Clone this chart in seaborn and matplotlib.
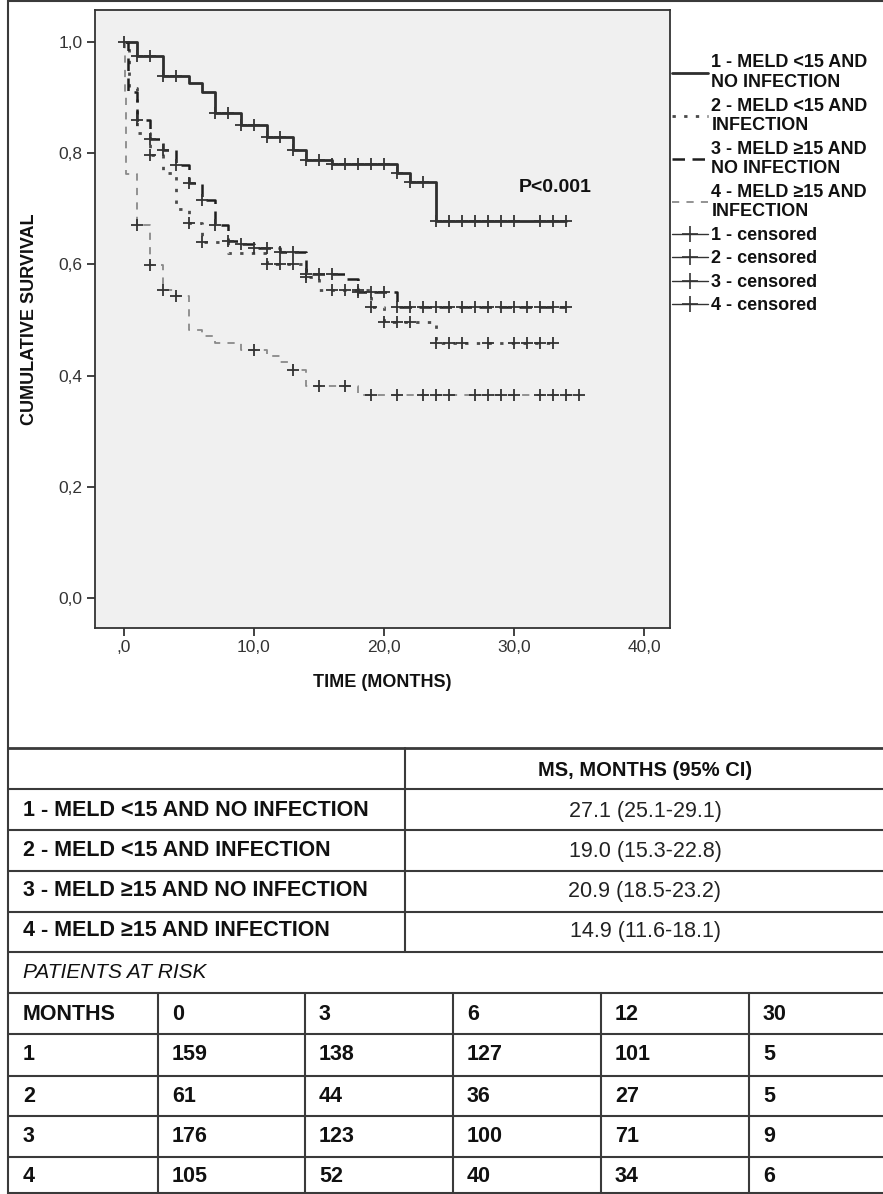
import numpy as np
import pandas as pd
import matplotlib
matplotlib.use('Agg')
import matplotlib.pyplot as plt
from matplotlib.lines import Line2D
import seaborn as sns

# Kaplan-Meier steps (time in months, survival after the step)
t1 = [0, 1, 3, 5, 6, 7, 9, 11, 13, 14, 16, 21, 22, 24]
s1 = [1.0, 0.975, 0.938, 0.926, 0.911, 0.873, 0.851, 0.829, 0.805, 0.788, 0.780, 0.764, 0.748, 0.678]
end1 = 34
c1 = [0, 1, 2, 3, 4, 7, 8, 9, 10, 11, 12, 13, 14, 15, 16, 17, 18, 19, 20, 21, 22, 23,
      24, 25, 26, 27, 28, 29, 30, 32, 33, 34]

t2 = [0, 0.4, 1, 2, 3, 4, 5, 6, 8, 11, 14, 15, 19, 20, 24]
s2 = [1.0, 0.918, 0.836, 0.797, 0.765, 0.700, 0.675, 0.640, 0.620, 0.600, 0.578, 0.554, 0.524, 0.497, 0.459]
end2 = 33
c2 = [2, 5, 6, 11, 12, 13, 14, 16, 17, 18, 19, 20, 21, 22, 24, 25, 26, 28, 30, 31, 32, 33]

t3 = [0, 0.3, 1, 2, 3, 4, 5, 6, 7, 8, 9, 10, 12, 14, 17, 18, 21]
s3 = [1.0, 0.910, 0.860, 0.826, 0.805, 0.778, 0.746, 0.716, 0.671, 0.642, 0.636, 0.630, 0.623,
      0.583, 0.574, 0.551, 0.523]
end3 = 34
c3 = [1, 2, 3, 4, 5, 6, 7, 8, 9, 10, 11, 12, 13, 14, 15, 16, 18, 19, 20, 21, 22, 23, 24, 25,
      26, 27, 28, 29, 30, 31, 32, 33, 34]

t4 = [0, 0.05, 0.15, 1, 2, 3, 4, 5, 6, 7, 9, 11, 12, 13, 14, 18]
s4 = [1.0, 0.905, 0.762, 0.671, 0.599, 0.554, 0.543, 0.482, 0.471, 0.459, 0.446, 0.435, 0.424,
      0.410, 0.381, 0.365]
end4 = 35
c4 = [1, 2, 3, 4, 10, 13, 15, 17, 19, 21, 23, 24, 25, 27, 28, 29, 30, 32, 33, 34, 35]

group_labels = ['1 - MELD <15 AND\nNO INFECTION', '2 - MELD <15 AND\nINFECTION',
                '3 - MELD \u226515 AND\nNO INFECTION', '4 - MELD \u226515 AND\nINFECTION']

# table data
table_groups = ['1 - MELD <15 AND NO INFECTION', '2 - MELD <15 AND INFECTION',
                '3 - MELD \u226515 AND NO INFECTION', '4 - MELD \u226515 AND INFECTION']
ms_values = ['27.1 (25.1-29.1)', '19.0 (15.3-22.8)', '20.9 (18.5-23.2)', '14.9 (11.6-18.1)']
risk_months = ['0', '3', '6', '12', '30']
risk_g1 = [159, 138, 127, 101, 5]
risk_g2 = [61, 44, 36, 27, 5]
risk_g3 = [176, 123, 100, 71, 9]
risk_g4 = [105, 52, 40, 34, 6]

sns.set_theme(style='white')
plt.rcParams['font.family'] = ['Liberation Sans', 'DejaVu Sans']

W, H = 883, 1194
fig = plt.figure(figsize=(W / 100, H / 100), dpi=100)

def fx(x):
    return x / W

def fy(y):
    return 1 - y / H

ax = fig.add_axes([fx(95), fy(628), (670 - 95) / W, (628 - 10) / H])
ax.set_facecolor('#f0f0f0')

styles = [
    dict(color='#2e2e2e', lw=2.0, ls='-'),
    dict(color='#4a4a4a', lw=2.0, ls=(0, (1.2, 3))),
    dict(color='#1e1e1e', lw=1.8, ls=(0, (5, 3))),
    dict(color='#8a8a8a', lw=1.3, ls=(0, (4, 4))),
]
curves = [(t1, s1, end1, c1), (t2, s2, end2, c2), (t3, s3, end3, c3), (t4, s4, end4, c4)]

for (t, s, end, cens), st in zip(curves, styles):
    df = pd.DataFrame({'time': t + [end], 'surv': s + [s[-1]]})
    sns.lineplot(data=df, x='time', y='surv', ax=ax, drawstyle='steps-post',
                 estimator=None, sort=False, color=st['color'], linewidth=st['lw'],
                 linestyle=st['ls'])
    tt = np.array(t)
    idx = np.searchsorted(tt, np.array(cens), side='right') - 1
    cy = np.array(s)[idx]
    sns.scatterplot(x=cens, y=cy, ax=ax, marker='+', s=70, linewidth=1.3,
                    color='#333333', zorder=3)

ax.set_xlim(-2.23, 42.0)
ax.set_ylim(-0.054, 1.0576)
ax.set_xticks([0, 10, 20, 30, 40])
ax.set_xticklabels([',0', '10,0', '20,0', '30,0', '40,0'])
ax.set_yticks([0, 0.2, 0.4, 0.6, 0.8, 1.0])
ax.set_yticklabels(['0,0', '0,2', '0,4', '0,6', '0,8', '1,0'])
ax.tick_params(axis='both', direction='out', length=6, width=1.3, color='#333333',
               labelsize=12.5, labelcolor='#333333', pad=3, bottom=True, left=True)
for sp in ax.spines.values():
    sp.set_color('#333333')
    sp.set_linewidth(1.3)

ax.set_xlabel('TIME (MONTHS)', fontsize=13, fontweight='bold', color='#111111')
ax.set_ylabel('CUMULATIVE SURVIVAL', fontsize=13, fontweight='bold', color='#111111')
ax.xaxis.set_label_coords(0.5, -0.075)
ax.yaxis.set_label_coords(-0.099, 0.5)

ax.text(33.2, 0.739, 'P<0.001', ha='center', va='center', fontsize=14,
        fontweight='bold', color='#111111')

handles = [Line2D([0], [0], color=st['color'], lw=st['lw'], ls=st['ls']) for st in styles]
handles += [Line2D([0], [0], color='#333333', lw=1.0, marker='+', markersize=12,
                   markeredgewidth=1.2) for _ in range(4)]
labels = group_labels + ['%d - censored' % i for i in range(1, 5)]
leg = ax.legend(handles, labels, loc='upper left', bbox_to_anchor=(1.003, 0.928),
                frameon=False, borderaxespad=0, borderpad=0, handlelength=2.0,
                handletextpad=0.2, labelspacing=0.36,
                prop={'weight': 'bold', 'size': 13})
for txt in leg.get_texts():
    txt.set_linespacing(1.2)
    txt.set_color('#111111')

# outer frame
lc = '#3a3a3a'
fig.add_artist(Line2D([fx(8), fx(8)], [fy(0), fy(H)], color=lc, lw=1.5))
fig.add_artist(Line2D([fx(8), fx(W)], [fy(1), fy(1)], color=lc, lw=1.5))

# summary table lines
for y in [748, 789, 830, 871, 912, 952, 993, 1034, 1076, 1116, 1157, 1193]:
    fig.add_artist(Line2D([fx(8), fx(W)], [fy(y), fy(y)], color=lc,
                          lw=2.0 if y == 748 else 1.5))
fig.add_artist(Line2D([fx(405), fx(405)], [fy(748), fy(952)], color=lc, lw=1.5))
col_x = [158, 305, 453, 601, 749]
for x in col_x:
    fig.add_artist(Line2D([fx(x), fx(x)], [fy(993), fy(1193)], color=lc, lw=1.5))

fig.text(fx(645), fy(770), 'MS, MONTHS (95% CI)', ha='center', va='center',
         fontsize=14.5, fontweight='bold', color='#111111')
row_y = [811, 851, 891, 931]
for name, ms, y in zip(table_groups, ms_values, row_y):
    fig.text(fx(23), fy(y), name, ha='left', va='center', fontsize=15.5,
             fontweight='bold', color='#111111')
    fig.text(fx(645), fy(y), ms, ha='center', va='center', fontsize=15.5,
             color='#222222')

fig.text(fx(23), fy(973), 'PATIENTS AT RISK', ha='left', va='center', fontsize=15,
         style='italic', color='#111111')

risk_rows = [['MONTHS'] + risk_months,
             ['1'] + [str(v) for v in risk_g1],
             ['2'] + [str(v) for v in risk_g2],
             ['3'] + [str(v) for v in risk_g3],
             ['4'] + [str(v) for v in risk_g4]]
risk_y = [1015, 1055, 1096, 1136, 1176]
cell_x = [23] + [x + 14 for x in col_x]
for row, y in zip(risk_rows, risk_y):
    for val, x in zip(row, cell_x):
        fig.text(fx(x), fy(y), val, ha='left', va='center', fontsize=15.5,
                 fontweight='bold', color='#111111')

fig.savefig('out.png', dpi=100)
